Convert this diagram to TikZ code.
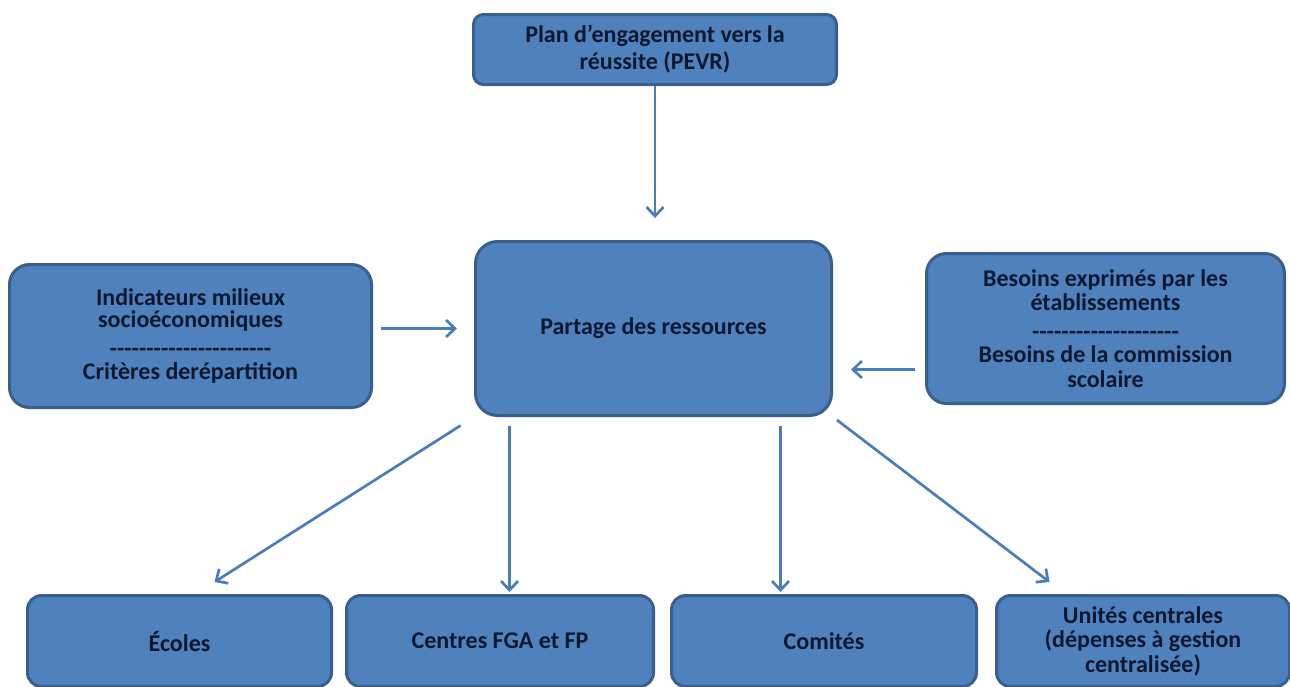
\documentclass[tikz,border=0pt]{standalone}
\usepackage{fontspec}
\newfontfamily\lab{Carlito}
\usetikzlibrary{arrows.meta,calc}
\definecolor{boxfill}{HTML}{4F81BD}
\definecolor{boxline}{HTML}{3A5F8C}
\definecolor{arrowc}{HTML}{4A7EBB}
\definecolor{txt}{HTML}{0C1830}
\newcommand\dashrow[1]{\foreach\i in {1,...,#1}{\mbox{-}}}
\begin{document}
\begin{tikzpicture}[x=1pt,y=-1pt,
  box/.style={draw=boxline, fill=boxfill, line width=3pt, rounded corners=#1,
    anchor=north west, inner sep=0pt, align=center, text=txt,
    font=\lab\bfseries\fontsize{24}{24.5}\selectfont},
  box/.default=14pt,
  arr/.style={draw=arrowc, line width=2.7pt, -{Straight Barb[length=9pt,width=17pt]}}]
\useasboundingbox (0,0) rectangle (1290,686);
\fill[white] (0,0) rectangle (1290,686);

\node[box=10pt, minimum width=363pt, minimum height=70pt] (top) at (472,13)
  {Plan d’engagement vers la\\[2.5pt]réussite (PEVR)};
\node[box=22pt, minimum width=356pt, minimum height=174pt] (center) at (474,240)
  {Partage des ressources};
\node[box=20pt, minimum width=362pt, minimum height=143pt] (left) at (8,263)
  {Indicateurs milieux\\[-2pt]socioéconomiques\\[4pt]\dashrow{22}\\[-1pt]Critères derépartition};
\node[box=20pt, minimum width=358pt, minimum height=150pt] (right) at (925,252)
  {Besoins exprimés par les\\établissements\\[4pt]\dashrow{20}\\[-1pt]Besoins de la commission\\scolaire};
\node[box, minimum width=304pt, minimum height=91pt] (ecoles) at (26,594) {Écoles};
\node[box, minimum width=307pt, minimum height=91pt] (centres) at (345,594) {Centres FGA et FP};
\node[box, minimum width=305pt, minimum height=91pt] (comites) at (670,594) {Comités};
\node[box, minimum width=293pt, minimum height=91pt] (unites) at (995,594)
  {Unités centrales\\(dépenses à gestion\\centralisée)};

\draw[arr, shorten >=22pt] (top.south) -- (top.south |- center.north);
\coordinate (la) at ([yshift=7.5pt]left.east);
\draw[arr, shorten <=8pt, shorten >=17pt] (la) -- (la -| center.west);
\coordinate (ra) at ([yshift=-41pt]right.west);
\draw[arr, shorten <=10pt, shorten >=18pt] (ra) -- (ra -| center.east);
\draw[arr, shorten <=16pt] (center.south west) -- ([xshift=35pt,yshift=12pt]ecoles.north);
\coordinate (c1) at ([xshift=-144pt]center.south);
\draw[arr, shorten <=9pt, shorten >=2pt] (c1) -- (c1 |- centres.north);
\coordinate (c2) at ([xshift=127pt]center.south);
\draw[arr, shorten <=9pt, shorten >=2pt] (c2) -- (c2 |- comites.north);
\draw[arr, shorten <=5pt] (center.south east) -- ([xshift=-93.5pt,yshift=12pt]unites.north);
\end{tikzpicture}
\end{document}
